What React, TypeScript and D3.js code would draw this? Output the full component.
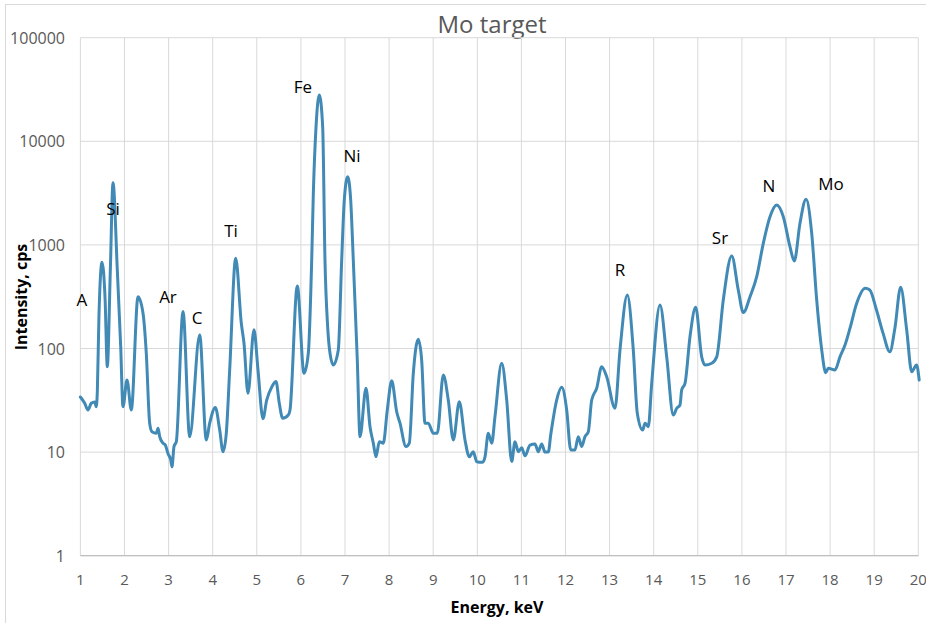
import React from "react";
import * as d3 from "d3";

// Spectrum samples: energy (keV) and intensity (cps)
const energy = [
  1.0, 1.098, 1.172, 1.247, 1.324, 1.361, 1.385, 1.42, 1.49, 1.56, 1.61, 1.68, 1.739, 1.837, 1.914, 1.966,
  2.057, 2.154, 2.306, 2.42, 2.494, 2.571, 2.624, 2.721, 2.76, 2.798, 2.873, 2.925, 2.986, 3.048, 3.077,
  3.122, 3.175, 3.327, 3.478, 3.705, 3.855, 3.932, 4.059, 4.159, 4.234, 4.308, 4.385, 4.522, 4.649, 4.71,
  4.8, 4.936, 5.027, 5.14, 5.224, 5.333, 5.435, 5.51, 5.587, 5.714, 5.753, 5.918, 6.07, 6.168, 6.245,
  6.282, 6.343, 6.417, 6.494, 6.546, 6.607, 6.66, 6.735, 6.848, 6.925, 6.984, 7.061, 7.129, 7.188, 7.279,
  7.34, 7.476, 7.567, 7.642, 7.703, 7.778, 7.868, 7.959, 8.059, 8.172, 8.247, 8.383, 8.458, 8.549, 8.662,
  8.739, 8.814, 8.889, 9.002, 9.093, 9.229, 9.342, 9.456, 9.592, 9.721, 9.819, 9.909, 9.986, 10.043,
  10.122, 10.175, 10.249, 10.327, 10.401, 10.553, 10.667, 10.78, 10.855, 10.93, 11.007, 11.082, 11.195,
  11.308, 11.383, 11.46, 11.535, 11.61, 11.664, 11.8, 11.914, 12.027, 12.118, 12.215, 12.29, 12.367,
  12.442, 12.517, 12.594, 12.707, 12.821, 12.934, 13.122, 13.236, 13.401, 13.537, 13.628, 13.75, 13.803,
  13.878, 13.955, 14.143, 14.295, 14.444, 14.522, 14.596, 14.635, 14.71, 14.823, 14.952, 15.088, 15.163,
  15.315, 15.429, 15.578, 15.769, 15.918, 16.032, 16.184, 16.336, 16.485, 16.637, 16.789, 16.939, 17.09,
  17.188, 17.317, 17.454, 17.583, 17.696, 17.81, 17.9, 17.959, 18.111, 18.224, 18.338, 18.451, 18.603,
  18.796, 18.9, 19.052, 19.202, 19.354, 19.469, 19.6, 19.737, 19.85, 19.961, 20.02,
];

const intensity = [
  34, 29.6, 25.5, 29.6, 30.5, 27.4, 40, 200, 680, 300, 66.7, 600, 3985, 572, 104, 27.4,
  49.7, 25.5, 316, 219, 90, 19, 15.7, 15.2, 17, 14.1, 12.2, 11.7, 9.7, 8.4, 7.2,
  11.3, 12.6, 227, 14.1, 135, 13.1, 19, 27, 16.3, 10.1, 15.2, 62, 743, 175, 112,
  37, 152, 62, 21, 31.8, 42, 48, 29.6, 21.2, 22.8, 25.5, 401, 57.6, 90, 715,
  3150, 13800, 28000, 13800, 711, 162, 90, 69.3, 96.8, 715, 2712, 4550, 2712, 715, 77,
  14.1, 41.3, 17.6, 12.2, 9.0, 12.6, 12.2, 25.5, 48.9, 24.5, 19, 11.3, 12.2, 57.6, 123,
  77, 19, 19, 15.2, 15.2, 55.5, 31.8, 13.1, 30.7, 13.1, 9.0, 10.1, 8.1, 8.0,
  8.0, 9.0, 15.2, 12.2, 22, 72, 31.8, 8.1, 12.6, 10.1, 11, 9.2, 11.7,
  12, 10.1, 12, 10, 10, 14.6, 31.8, 42.2, 25.5, 10.5, 10.5, 14.1, 11.3,
  14.1, 15.7, 31.8, 41.3, 66.7, 53.4, 26.5, 97, 328, 97, 23.7, 16.3, 19,
  17.6, 46.1, 263, 83, 22.8, 26.5, 28.5, 39.8, 46.1, 130, 250, 83, 69.3,
  72, 83, 294, 781, 367, 222, 316, 493, 1036, 1870, 2430, 1870, 961,
  699, 1616, 2755, 1294, 294, 97, 58.4, 64.4, 62, 83, 108, 157, 273,
  381, 367, 235, 140, 93, 157, 390, 151, 59.7, 69.3, 49.7,
];

// Element annotations: label, energy and intensity at the label's centre
const peakLabels = ["A", "Si", "Ar", "C", "Ti", "Fe", "Ni", "R", "Sr", "N", "Mo"];
const peakLabelEnergy = [1.036, 1.739, 2.986, 3.644, 4.415, 6.048, 7.159, 13.236, 15.503, 16.614, 18.02];
const peakLabelIntensity = [294, 2222, 314, 198, 1362, 33400, 7210, 572, 1167, 3700, 3860];

const xTicks = d3.range(1, 21);
const yTicks = [1, 10, 100, 1000, 10000, 100000];

const W = 926;
const H = 623;
const left = 80.4;
const right = 918.3;
const top = 37.7;
const bottom = 555.7;

export default function App() {
  const x = d3.scaleLinear().domain([1, 20]).range([left, right]);
  const y = d3.scaleLog().domain([1, 100000]).range([bottom, top]);

  const pts = energy.map((e, i) => [e, intensity[i]] as [number, number]);
  const line = d3
    .line<[number, number]>()
    .x((d) => x(d[0]))
    .y((d) => y(d[1]))
    .curve(d3.curveMonotoneX);

  const grid = "#d9d9d9";
  const tickColor = "#595959";
  const font = "'Open Sans', 'Liberation Sans', sans-serif";

  return (
    <div style={{ position: "fixed", left: 0, top: 0, width: W, height: H, background: "#fff" }}>
      <svg width={W} height={H} style={{ display: "block" }}>
        <rect x={5.5} y={4.5} width={W + 10} height={H + 10} fill="#fff" stroke={grid} strokeWidth={1} />
        <text
          x={492}
          y={33}
          textAnchor="middle"
          fontFamily={font}
          fontSize={24}
          fill={tickColor}
        >
          Mo target
        </text>

        {/* gridlines */}
        {yTicks.map((t) => (
          <line key={"gy" + t} x1={left} x2={right} y1={y(t)} y2={y(t)} stroke={grid} strokeWidth={1} />
        ))}
        {xTicks.map((t) => (
          <line key={"gx" + t} x1={x(t)} x2={x(t)} y1={top} y2={bottom} stroke={grid} strokeWidth={1} />
        ))}
        <line x1={left} x2={right} y1={bottom} y2={bottom} stroke="#bfbfbf" strokeWidth={1.2} />

        {/* tick labels */}
        {yTicks.map((t) => (
          <text
            key={"ly" + t}
            x={65}
            y={y(t) + 6}
            textAnchor="end"
            fontFamily={font}
            fontSize={16}
            fill={tickColor}
          >
            {t}
          </text>
        ))}
        {xTicks.map((t) => (
          <text
            key={"lx" + t}
            x={x(t)}
            y={585}
            textAnchor="middle"
            fontFamily={font}
            fontSize={15}
            fill={tickColor}
          >
            {t}
          </text>
        ))}

        {/* axis titles */}
        <text
          x={497}
          y={613}
          textAnchor="middle"
          fontFamily={font}
          fontSize={16}
          fontWeight="bold"
          fill="#000"
        >
          Energy, keV
        </text>
        <text
          transform={`translate(27, 297) rotate(-90)`}
          textAnchor="middle"
          fontFamily={font}
          fontSize={16}
          fontWeight="bold"
          fill="#000"
        >
          Intensity, cps
        </text>

        {/* spectrum */}
        <path
          d={line(pts) || ""}
          fill="none"
          stroke="#418ab6"
          strokeWidth={3}
          strokeLinejoin="round"
          strokeLinecap="round"
        />

        {/* element labels */}
        {peakLabels.map((l, i) => (
          <text
            key={"pl" + l}
            x={x(peakLabelEnergy[i])}
            y={y(peakLabelIntensity[i]) + 6}
            textAnchor="middle"
            fontFamily={font}
            fontSize={17}
            fill="#000"
          >
            {l}
          </text>
        ))}
      </svg>
    </div>
  );
}
